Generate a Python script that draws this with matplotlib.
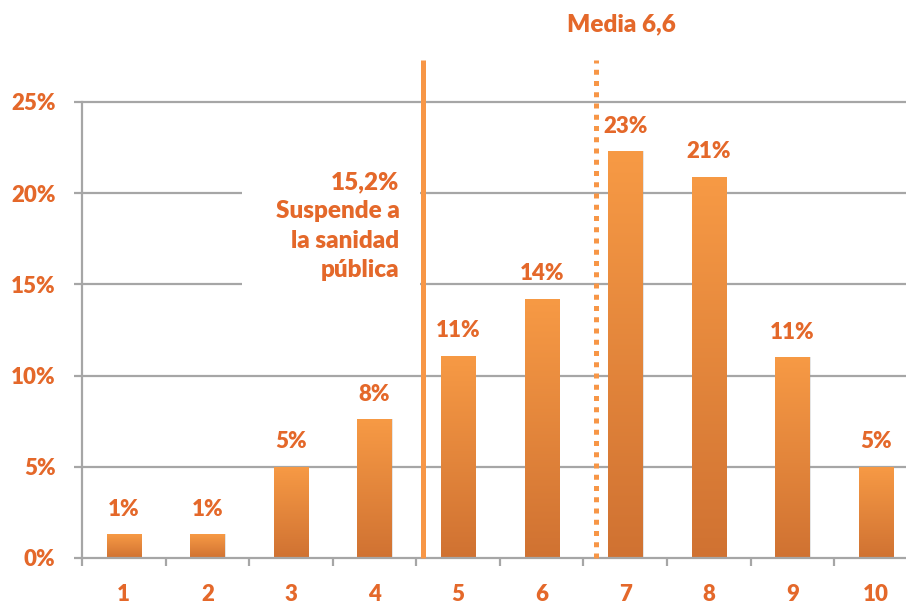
import numpy as np
import matplotlib.pyplot as plt
from matplotlib.colors import LinearSegmentedColormap
from matplotlib.patches import Rectangle
from matplotlib.transforms import blended_transform_factory

# data
notas = [1, 2, 3, 4, 5, 6, 7, 8, 9, 10]
porcentajes = [1.3, 1.3, 5.0, 7.6, 11.1, 14.2, 22.3, 20.9, 11.0, 5.0]
etiquetas = ["1%", "1%", "5%", "8%", "11%", "14%", "23%", "21%", "11%", "5%"]
y_ticks = [0, 5, 10, 15, 20, 25]
corte_suspenso = 4.58
media = 6.65
texto_media = "Media 6,6"
texto_suspenso = "15,2%\nSuspende a\nla sanidad\npública"

TEXT = "#E4682A"
ORANGE = "#F79646"
GRID = "#A6A6A6"

plt.rcParams["font.family"] = ["Lato", "DejaVu Sans"]
plt.rcParams["font.weight"] = "heavy"

fig = plt.figure(figsize=(9.06, 6.04), dpi=100)
ax = fig.add_axes([82 / 906, 1 - 558 / 604, 1 - 82 / 906, 498 / 604])

ax.set_xlim(0.5, 10.36)
ax.set_ylim(0, 27.3)

# grid and frame
for y in y_ticks[1:]:
    ax.axhline(y, color=GRID, lw=1.6, zorder=0.5)
for side in ["top", "right"]:
    ax.spines[side].set_visible(False)
ax.spines["left"].set_bounds(0, 25)
for side in ["left", "bottom"]:
    ax.spines[side].set_color(GRID)
    ax.spines[side].set_linewidth(1.6)

ax.set_yticks(y_ticks)
ax.set_yticklabels([f"{v}%" for v in y_ticks])
ax.tick_params(axis="y", length=6, width=1.6, color=GRID, pad=13,
               labelsize=16, labelcolor=TEXT)
ax.set_xticks(notas)
ax.set_xticklabels([str(n) for n in notas])
ax.tick_params(axis="x", which="major", length=0, pad=19,
               labelsize=16, labelcolor=TEXT)
ax.set_xticks(np.arange(0.5, 10.5, 1.0), minor=True)
ax.tick_params(axis="x", which="minor", length=6, width=1.6, color=GRID)

# white box behind the annotation hides the grid
ax.add_patch(Rectangle((2.41, 14.4), 2.13, 7.2, facecolor="white",
                       edgecolor="none", zorder=1))

# gradient bars
cmap = LinearSegmentedColormap.from_list("naranja", ["#D07232", "#F79A45"])
grad = np.linspace(0, 1, 256).reshape(-1, 1)
bars = ax.bar(notas, porcentajes, width=0.41, color="none", zorder=2)
for bar in bars:
    x0, w, h = bar.get_x(), bar.get_width(), bar.get_height()
    # soft shadow on the right
    ax.add_patch(Rectangle((x0 + 0.015, 0), w, h, facecolor="#999999",
                           edgecolor="none", alpha=0.25, zorder=1.8))
    im = ax.imshow(grad, cmap=cmap, origin="lower", aspect="auto",
                   extent=(x0, x0 + w, 0, h), zorder=2)
    im.set_clip_path(bar)

for n, v, lab in zip(notas, porcentajes, etiquetas):
    ax.annotate(lab, (n, v), xytext=(0, 10.5), textcoords="offset points",
                ha="center", va="bottom", fontsize=16, color=TEXT, zorder=4)

# reference lines
ax.plot([corte_suspenso, corte_suspenso], [0, 27.3], color=ORANGE, lw=3.6,
        solid_capstyle="butt", zorder=3, clip_on=False)
ax.plot([media, media], [0, 27.3], color=ORANGE, lw=3.6,
        linestyle=(0, (1, 1.25)), dash_capstyle="butt", zorder=3, clip_on=False)

trans = blended_transform_factory(ax.transData, ax.transAxes)
ax.text(6.95, 1.072, texto_media, transform=trans, ha="center", va="center",
        fontsize=17.5, color=TEXT)
ax.text(4.3, 18.2, texto_suspenso, ha="right", va="center", fontsize=17.5,
        color=TEXT, linespacing=1.4, multialignment="right", zorder=4)

fig.savefig("out.png", dpi=100)
